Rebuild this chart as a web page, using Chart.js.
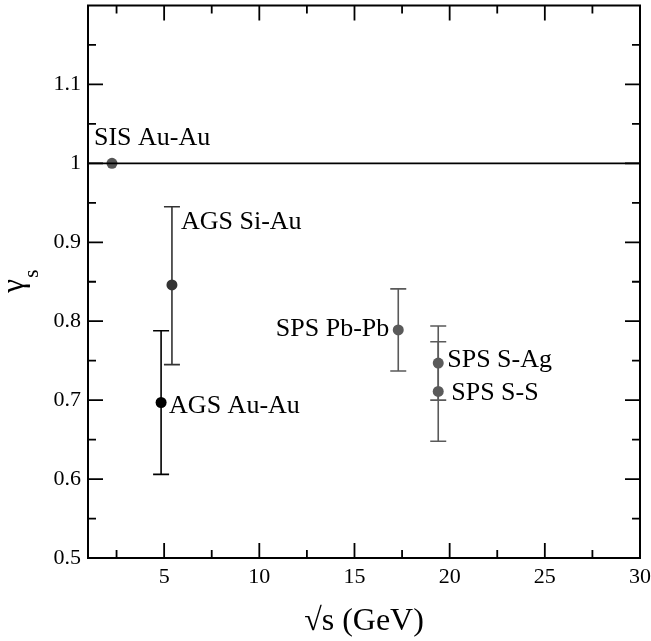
<!DOCTYPE html>
<html>
 <head>
  <meta charset="utf-8" />
  <title></title>
  <style>
   body { margin: 0; background: #fff; }
   #wrap { width: 651px; height: 641px; }
  </style>
 </head>
 <body>
  <div id="wrap"><canvas id="gammaChart"></canvas></div>

  <script src="https://cdn.jsdelivr.net/npm/chart.js@4/dist/chart.umd.min.js"></script>
  <script>
// data
const names  = ['SIS Au-Au', 'AGS Si-Au', 'AGS Au-Au', 'SPS Pb-Pb', 'SPS S-Ag', 'SPS S-S'];
const sqrtS  = [2.26, 5.41, 4.84, 17.3, 19.4, 19.4];
const gammaS = [1.0, 0.846, 0.697, 0.789, 0.747, 0.711];
const errLo  = [0, 0.101, 0.091, 0.052, 0.047, 0.063];
const errHi  = [0, 0.099, 0.091, 0.052, 0.047, 0.063];
const refLineX = [1, 30];
const refLineY = [1, 1];
const xTicks = [5, 10, 15, 20, 25, 30];
const yTicks = [0.5, 0.6, 0.7, 0.8, 0.9, 1.0, 1.1];
const xMinor = [2.5, 7.5, 12.5, 17.5, 22.5, 27.5];
const yMinor = [0.55, 0.65, 0.75, 0.85, 0.95, 1.05, 1.15];

// styles
const pointColors = ['#555', '#333', '#000', '#5a5a5a', '#5a5a5a', '#5a5a5a'];
const labelPlace = [
  { align: 'left',  dx: -18, dy: -25 },
  { align: 'left',  dx: 9,   dy: -63 },
  { align: 'left',  dx: 8,   dy: 4 },
  { align: 'right', dx: -9,  dy: -1 },
  { align: 'left',  dx: 9,   dy: -3 },
  { align: 'left',  dx: 13,  dy: 2 }
];
const serif = 'Liberation Serif';

const extras = {
  id: 'extras',
  beforeDatasetsDraw(chart) {
    const ctx = chart.ctx, xs = chart.scales.x, ys = chart.scales.y;
    ctx.save();
    ctx.lineWidth = 1.6;
    for (let i = 0; i < names.length; i++) {
      if (!errLo[i] && !errHi[i]) continue;
      const px = xs.getPixelForValue(sqrtS[i]);
      const top = ys.getPixelForValue(gammaS[i] + errHi[i]);
      const bot = ys.getPixelForValue(gammaS[i] - errLo[i]);
      ctx.strokeStyle = pointColors[i];
      ctx.beginPath();
      ctx.moveTo(px, top); ctx.lineTo(px, bot);
      ctx.moveTo(px - 8, top); ctx.lineTo(px + 8, top);
      ctx.moveTo(px - 8, bot); ctx.lineTo(px + 8, bot);
      ctx.stroke();
    }
    ctx.restore();
  },
  afterDraw(chart) {
    const ctx = chart.ctx, xs = chart.scales.x, ys = chart.scales.y;
    const a = chart.chartArea;
    ctx.save();
    // frame
    ctx.strokeStyle = '#000';
    ctx.lineWidth = 2;
    ctx.strokeRect(a.left, a.top, a.right - a.left, a.bottom - a.top);
    // inward ticks, all four sides
    ctx.lineWidth = 1.8;
    ctx.beginPath();
    const xt = (v, len) => {
      const p = xs.getPixelForValue(v);
      ctx.moveTo(p, a.bottom); ctx.lineTo(p, a.bottom - len);
      ctx.moveTo(p, a.top); ctx.lineTo(p, a.top + len);
    };
    const yt = (v, len) => {
      const p = ys.getPixelForValue(v);
      ctx.moveTo(a.left, p); ctx.lineTo(a.left + len, p);
      ctx.moveTo(a.right, p); ctx.lineTo(a.right - len, p);
    };
    xTicks.forEach(v => xt(v, 15));
    xMinor.forEach(v => xt(v, 8));
    yTicks.forEach(v => yt(v, 15));
    yMinor.forEach(v => yt(v, 8));
    ctx.stroke();

    // point labels
    ctx.fillStyle = '#000';
    ctx.font = '26px "' + serif + '"';
    ctx.textBaseline = 'middle';
    for (let i = 0; i < names.length; i++) {
      const px = xs.getPixelForValue(sqrtS[i]);
      const py = ys.getPixelForValue(gammaS[i]);
      ctx.textAlign = labelPlace[i].align;
      ctx.fillText(names[i], px + labelPlace[i].dx, py + labelPlace[i].dy);
    }

    // y title: gamma with subscript s
    ctx.translate(17, (a.top + a.bottom) / 2);
    ctx.rotate(-Math.PI / 2);
    ctx.textAlign = 'left';
    ctx.textBaseline = 'alphabetic';
    ctx.font = '31px "' + serif + '"';
    ctx.fillText('γ', -11, 6);
    ctx.font = '21px "' + serif + '"';
    ctx.fillText('s', 4, 21);
    ctx.restore();
  }
};

const scatterData = sqrtS.map((x, i) => ({ x: x, y: gammaS[i] }));
const lineData = refLineX.map((x, i) => ({ x: x, y: refLineY[i] }));

new Chart(document.getElementById('gammaChart'), {
  type: 'scatter',
  data: {
    datasets: [
      {
        type: 'line',
        data: lineData,
        borderColor: '#000',
        borderWidth: 1.6,
        pointRadius: 0,
        fill: false
      },
      {
        data: scatterData,
        pointRadius: 5.5,
        pointBackgroundColor: pointColors,
        pointBorderColor: pointColors,
        pointBorderWidth: 0
      }
    ]
  },
  options: {
    responsive: true,
    maintainAspectRatio: false,
    animation: false,
    layout: { padding: { top: 5, right: 11, left: 0, bottom: 0 } },
    plugins: { legend: { display: false }, tooltip: { enabled: false } },
    scales: {
      x: {
        type: 'linear',
        min: 1,
        max: 30,
        grid: { display: false, drawTicks: false },
        border: { display: false },
        afterBuildTicks: s => { s.ticks = xTicks.map(v => ({ value: v })); },
        afterFit: s => { s.height = 83; s.paddingLeft = 0; s.paddingRight = 0; },
        ticks: {
          color: '#000',
          padding: 6,
          maxRotation: 0,
          font: { family: serif, size: 22 },
          callback: v => String(v)
        },
        title: {
          display: true,
          text: '√s (GeV)',
          color: '#000',
          font: { family: serif, size: 32 },
          padding: { top: 0, bottom: 0 }
        }
      },
      y: {
        type: 'linear',
        min: 0.5,
        max: 1.2,
        grid: { display: false, drawTicks: false },
        border: { display: false },
        afterBuildTicks: s => { s.ticks = yTicks.map(v => ({ value: v })); },
        afterFit: s => { s.width = 88; s.paddingTop = 0; s.paddingBottom = 0; },
        ticks: {
          color: '#000',
          padding: 7,
          font: { family: serif, size: 22 },
          callback: v => String(+v.toFixed(1))
        }
      }
    }
  },
  plugins: [extras]
});
  </script>
 </body>
</html>
